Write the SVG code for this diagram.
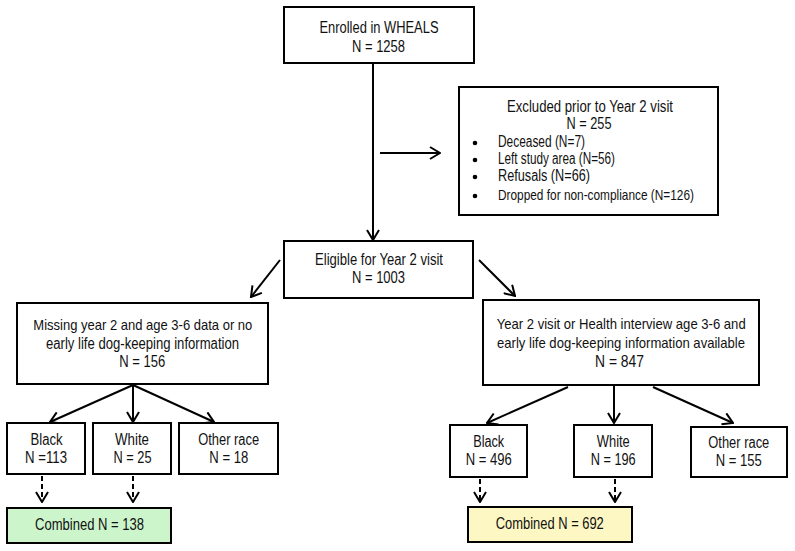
<svg xmlns="http://www.w3.org/2000/svg" width="795" height="551" viewBox="0 0 795 551">
<defs>
<style>
.box{fill:#fff;stroke:#000;stroke-width:2}
.green{fill:#ccf5cc}
.yellow{fill:#fdf7c3}
text{font-family:"Liberation Sans",Arial,sans-serif;font-size:16px;fill:#111;text-anchor:middle}
text.l{text-anchor:start}
text.s{font-size:15px}
.c{fill:none;stroke:#000;stroke-width:2}
.d{stroke-dasharray:5,3}
</style>
<marker id="ah" viewBox="0 0 12 14" refX="11" refY="7" markerWidth="12" markerHeight="14" markerUnits="userSpaceOnUse" orient="auto">
<path d="M1,1 L11,7 L1,13" fill="none" stroke="#000" stroke-width="2"/>
</marker>
</defs>
<rect width="795" height="551" fill="#fff"/>
<g id="connectors">
<line class="c" x1="373" y1="63" x2="373" y2="240" marker-end="url(#ah)"/>
<line class="c" x1="380" y1="153" x2="440" y2="153" marker-end="url(#ah)"/>
<line class="c" x1="280" y1="260" x2="251" y2="297" marker-end="url(#ah)"/>
<line class="c" x1="479" y1="260" x2="515" y2="296" marker-end="url(#ah)"/>
<line class="c" x1="133" y1="385" x2="50" y2="422" marker-end="url(#ah)"/>
<line class="c" x1="133" y1="385" x2="133" y2="422" marker-end="url(#ah)"/>
<line class="c" x1="133" y1="385" x2="214" y2="422" marker-end="url(#ah)"/>
<line class="c" x1="568" y1="387" x2="487" y2="423" marker-end="url(#ah)"/>
<line class="c" x1="614" y1="386" x2="614" y2="423" marker-end="url(#ah)"/>
<line class="c" x1="653" y1="387" x2="733" y2="423" marker-end="url(#ah)"/>
<line class="c d" x1="42" y1="476" x2="42" y2="502" marker-end="url(#ah)"/>
<line class="c d" x1="133" y1="476" x2="133" y2="502" marker-end="url(#ah)"/>
<line class="c d" x1="480" y1="479" x2="480" y2="502" marker-end="url(#ah)"/>
<line class="c d" x1="615" y1="479" x2="615" y2="502" marker-end="url(#ah)"/>
</g>
<g id="enrolled">
<rect class="box" x="284" y="7" width="190" height="56"/>
<text x="379" y="33" textLength="119" lengthAdjust="spacingAndGlyphs">Enrolled in WHEALS</text>
<text x="378.5" y="52" textLength="53" lengthAdjust="spacingAndGlyphs">N = 1258</text>
</g>
<g id="excluded">
<rect class="box" x="459" y="87" width="259" height="128"/>
<text x="590" y="112" textLength="166" lengthAdjust="spacingAndGlyphs">Excluded prior to Year 2 visit</text>
<text x="589" y="129" textLength="45" lengthAdjust="spacingAndGlyphs">N = 255</text>
<circle cx="475" cy="143" r="2.3"/>
<circle cx="475" cy="160" r="2.3"/>
<circle cx="475" cy="177" r="2.3"/>
<circle cx="475" cy="196" r="2.3"/>
<text class="l" x="498" y="147" textLength="87" lengthAdjust="spacingAndGlyphs">Deceased (N=7)</text>
<text class="l" x="498" y="164" textLength="117" lengthAdjust="spacingAndGlyphs">Left study area (N=56)</text>
<text class="l" x="498" y="181" textLength="92" lengthAdjust="spacingAndGlyphs">Refusals (N=66)</text>
<text class="l s" x="498" y="200" textLength="196" lengthAdjust="spacingAndGlyphs">Dropped for non-compliance (N=126)</text>
</g>
<g id="eligible">
<rect class="box" x="284" y="241" width="189" height="57"/>
<text x="379" y="265" textLength="128" lengthAdjust="spacingAndGlyphs">Eligible for Year 2 visit</text>
<text x="378.5" y="283" textLength="53" lengthAdjust="spacingAndGlyphs">N = 1003</text>
</g>
<g id="missing">
<rect class="box" x="17" y="303" width="251" height="81"/>
<text class="s" x="142.8" y="330" textLength="219" lengthAdjust="spacingAndGlyphs">Missing year 2 and age 3-6 data or no</text>
<text x="142.5" y="349" textLength="193" lengthAdjust="spacingAndGlyphs">early life dog-keeping information</text>
<text x="142.2" y="367" textLength="46" lengthAdjust="spacingAndGlyphs">N = 156</text>
</g>
<g id="available">
<rect class="box" x="483" y="300" width="276" height="85"/>
<text class="s" x="621.2" y="329" textLength="249" lengthAdjust="spacingAndGlyphs">Year 2 visit or Health interview age 3-6 and</text>
<text class="s" x="621" y="348" textLength="248" lengthAdjust="spacingAndGlyphs">early life dog-keeping information available</text>
<text x="619.5" y="367" textLength="49" lengthAdjust="spacingAndGlyphs">N = 847</text>
</g>
<g id="left-black">
<rect class="box" x="7" y="423" width="78" height="51"/>
<text x="46.5" y="445" textLength="32" lengthAdjust="spacingAndGlyphs">Black</text>
<text x="46" y="463" textLength="42" lengthAdjust="spacingAndGlyphs">N =113</text>
</g>
<g id="left-white">
<rect class="box" x="93" y="423" width="78" height="51"/>
<text x="132" y="445" textLength="34" lengthAdjust="spacingAndGlyphs">White</text>
<text x="132.5" y="463" textLength="38" lengthAdjust="spacingAndGlyphs">N = 25</text>
</g>
<g id="left-other">
<rect class="box" x="179" y="423" width="99" height="51"/>
<text x="228.7" y="445" textLength="61" lengthAdjust="spacingAndGlyphs">Other race</text>
<text x="228.8" y="463" textLength="39" lengthAdjust="spacingAndGlyphs">N = 18</text>
</g>
<g id="left-combined">
<rect class="box green" x="7" y="508" width="164" height="35"/>
<text x="89.5" y="530" textLength="109" lengthAdjust="spacingAndGlyphs">Combined N = 138</text>
</g>
<g id="right-black">
<rect class="box" x="450" y="425" width="77" height="52"/>
<text x="488.7" y="447" textLength="31" lengthAdjust="spacingAndGlyphs">Black</text>
<text x="488.7" y="465" textLength="46" lengthAdjust="spacingAndGlyphs">N = 496</text>
</g>
<g id="right-white">
<rect class="box" x="574" y="425" width="78" height="52"/>
<text x="613.3" y="447" textLength="33" lengthAdjust="spacingAndGlyphs">White</text>
<text x="613.2" y="465" textLength="45" lengthAdjust="spacingAndGlyphs">N = 196</text>
</g>
<g id="right-other">
<rect class="box" x="691" y="427" width="96" height="50"/>
<text x="738.8" y="448" textLength="61" lengthAdjust="spacingAndGlyphs">Other race</text>
<text x="738.8" y="466" textLength="46" lengthAdjust="spacingAndGlyphs">N = 155</text>
</g>
<g id="right-combined">
<rect class="box yellow" x="468" y="507" width="164" height="35"/>
<text x="549.8" y="529" textLength="108" lengthAdjust="spacingAndGlyphs">Combined N = 692</text>
</g>
</svg>
